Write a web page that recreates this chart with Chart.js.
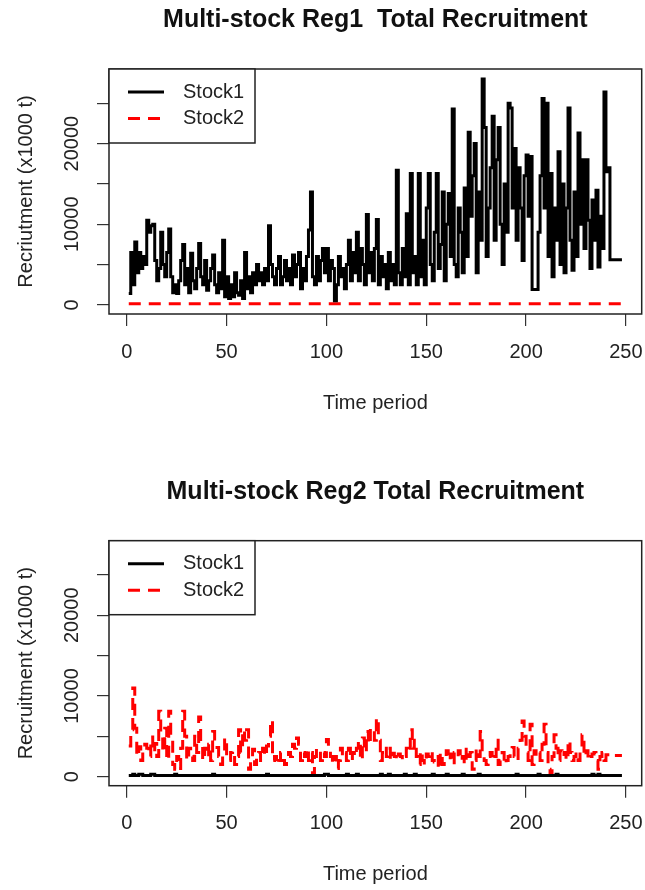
<!DOCTYPE html>
<html>
<head>
<meta charset="utf-8">
<title>Multi-stock Total Recruitment</title>
<script src="https://cdn.jsdelivr.net/npm/chart.js@4.4.1/dist/chart.umd.min.js"></script>
<style>
  body { margin: 0; background: #fff; }
  canvas { position: absolute; left: 0; }
</style>
</head>
<body>
<canvas id="reg1" width="645" height="445" style="top:0"></canvas>
<canvas id="reg2" width="645" height="445" style="top:445px"></canvas>
<script>
// recruitment by time period, x1000 t
const reg1Stock1 = [
  1400, 6500, 2500, 7800, 4000, 6500, 4500, 6000, 5000, 10500,
  9000, 9800, 10000, 5500, 3000, 4500, 9000, 5000, 3500, 6500,
  9400, 3500, 1500, 2500, 1400, 3000, 5500, 7500, 2500, 4500,
  1500, 6400, 3000, 2000, 4500, 7600, 3500, 2500, 5500, 1800,
  3000, 4500, 6200, 2500, 1500, 4000, 2000, 8000, 1000, 3500,
  800, 2500, 1000, 4000, 1500, 1200, 3000, 800, 6500, 2000,
  3500, 1500, 4000, 2500, 5000, 3000, 4000, 2500, 4500, 3000,
  9800, 5000, 3500, 2500, 4500, 6000, 2500, 3500, 5500, 3000,
  4500, 2500, 6200, 3500, 5000, 6500, 2000, 4500, 3000, 6000,
  9300, 14000, 3500, 2500, 6000, 3000, 5500, 7000, 4000, 7000,
  3000, 5500, 4500, 500, 2500, 6000, 3500, 4500, 2000, 5000,
  8000, 3000, 6500, 4000, 9000, 3000, 7000, 5000, 2500, 11200,
  4000, 6500, 3000, 7000, 10600, 2500, 6000, 3500, 5000, 2000,
  6500, 3000, 5000, 2500, 16700, 4000, 2500, 7000, 3500, 11300,
  2500, 16300, 4000, 6000, 2500, 16300, 3500, 8000, 2500, 12000,
  16300, 5000, 3000, 9000, 16300, 4500, 7500, 14000, 3000, 10000,
  13800, 6000, 24300, 5000, 3500, 12000, 9000, 4000, 14500, 6000,
  21400, 11000, 16000, 20000, 4000, 14000, 8000, 28000, 22000, 6000,
  12000, 17000, 23400, 8000, 18000, 22000, 10000, 5000, 15000, 9000,
  25000, 24400, 12000, 19400, 8000, 17000, 12000, 5500, 16000, 18600,
  11000, 18400, 1900, 1900, 1900, 9000, 16000, 25600, 12000, 25000,
  6000, 16300, 3500, 12000, 8000, 19000, 5000, 15000, 4000, 12000,
  24400, 8000, 4300, 14000, 6000, 21300, 10000, 18000, 7000, 18000,
  10500, 4500, 13000, 8000, 14200, 4700, 11000, 7000, 26400, 16500,
  17000, 5600, 5600, 5600, 5600, 5600, 5600, 5600
];
const reg1Stock2 = [
  150, 150, 150, 150, 150, 150, 150, 150, 150, 150,
  150, 150, 150, 150, 150, 150, 150, 150, 150, 150,
  150, 150, 150, 150, 150, 150, 150, 150, 150, 150,
  150, 150, 150, 150, 150, 150, 150, 150, 150, 150,
  150, 150, 150, 150, 150, 150, 150, 150, 150, 150,
  150, 150, 150, 150, 150, 150, 150, 150, 150, 150,
  150, 150, 150, 150, 150, 150, 150, 150, 150, 150,
  150, 150, 150, 150, 150, 150, 150, 150, 150, 150,
  150, 150, 150, 150, 150, 150, 150, 150, 150, 150,
  150, 150, 150, 150, 150, 150, 150, 150, 150, 150,
  150, 150, 150, 150, 150, 150, 150, 150, 150, 150,
  150, 150, 150, 150, 150, 150, 150, 150, 150, 150,
  150, 150, 150, 150, 150, 150, 150, 150, 150, 150,
  150, 150, 150, 150, 150, 150, 150, 150, 150, 150,
  150, 150, 150, 150, 150, 150, 150, 150, 150, 150,
  150, 150, 150, 150, 150, 150, 150, 150, 150, 150,
  150, 150, 150, 150, 150, 150, 150, 150, 150, 150,
  150, 150, 150, 150, 150, 150, 150, 150, 150, 150,
  150, 150, 150, 150, 150, 150, 150, 150, 150, 150,
  150, 150, 150, 150, 150, 150, 150, 150, 150, 150,
  150, 150, 150, 150, 150, 150, 150, 150, 150, 150,
  150, 150, 150, 150, 150, 150, 150, 150, 150, 150,
  150, 150, 150, 150, 150, 150, 150, 150, 150, 150,
  150, 150, 150, 150, 150, 150, 150, 150, 150, 150,
  150, 150, 150, 150, 150, 150, 150, 150
];
const reg2Stock1 = [
  120, 120, 300, 120, 120, 300, 300, 120, 120, 120,
  120, 300, 300, 120, 120, 120, 120, 120, 120, 120,
  120, 120, 120, 300, 120, 120, 120, 120, 120, 120,
  120, 120, 120, 120, 120, 120, 120, 120, 120, 120,
  120, 120, 300, 120, 120, 120, 120, 120, 120, 120,
  120, 120, 120, 120, 120, 120, 120, 120, 120, 120,
  120, 120, 120, 120, 120, 120, 120, 120, 120, 300,
  120, 120, 120, 120, 120, 120, 120, 120, 120, 120,
  120, 120, 120, 120, 120, 120, 120, 120, 120, 120,
  120, 120, 120, 120, 120, 120, 120, 120, 300, 300,
  120, 120, 120, 120, 120, 120, 120, 120, 120, 300,
  120, 120, 120, 120, 300, 120, 120, 120, 120, 120,
  120, 120, 120, 120, 120, 120, 300, 120, 120, 120,
  300, 120, 120, 120, 120, 120, 120, 120, 300, 120,
  120, 120, 120, 300, 120, 120, 120, 120, 120, 120,
  120, 120, 300, 120, 120, 120, 120, 120, 120, 300,
  120, 120, 120, 120, 120, 120, 120, 300, 120, 120,
  120, 120, 120, 120, 120, 300, 120, 120, 120, 120,
  120, 120, 120, 120, 120, 120, 120, 120, 120, 120,
  120, 120, 120, 120, 300, 120, 120, 120, 120, 120,
  120, 120, 120, 120, 120, 300, 120, 120, 120, 120,
  120, 120, 120, 120, 300, 120, 120, 120, 120, 120,
  120, 120, 120, 120, 120, 120, 120, 120, 120, 120,
  120, 120, 300, 120, 120, 300, 120, 120, 120, 120,
  120, 120, 120, 120, 120, 120, 120, 120
];
const reg2Stock2 = [
  3800, 5800, 11000, 6000, 2500, 3700, 2000, 3000, 4000, 3500,
  2500, 4900, 3000, 4100, 2500, 8100, 5000, 3000, 6000, 2000,
  8100, 4500, 1500, 900, 2500, 1000, 3500, 8100, 5000, 2000,
  3500, 2500, 2000, 5000, 3000, 7400, 4000, 2000, 3500, 2500,
  4000, 2000, 5600, 3600, 3600, 2500, 1500, 3000, 4800, 2000,
  2000, 3000, 3200, 1500, 2500, 5800, 3000, 5800, 4500, 5800,
  900, 2500, 3400, 1500, 2500, 3000, 2000, 3500, 2500, 3800,
  5000, 7000, 2000, 2500, 1500, 2000, 3000, 2000, 1500, 2000,
  3000, 2500, 4000, 3500, 4800, 4000, 2000, 3000, 2500, 3500,
  2000, 3000, 300, 2500, 3500, 3200, 2000, 3000, 2500, 4600,
  3500, 2500, 1500, 2500, 1000, 2000, 3500, 2500, 3000, 2000,
  3500, 2000, 3000, 2500, 3500, 4500, 2000, 4800, 3000, 5600,
  4000, 6000, 5800, 4500, 7300, 4500, 2000, 3000, 3700, 2500,
  3500, 2000, 2900, 2500, 2000, 2800, 2500, 2000, 2500, 3500,
  3000, 5800, 3500, 4500, 2500, 1500, 3200, 2000, 1500, 2800,
  2500, 3200, 2000, 1800, 2500, 900, 3000, 1500, 2500, 3200,
  2000, 2800, 1500, 3000, 2500, 3200, 2000, 2500, 1500, 3600,
  2500, 3000, 900, 2000, 3500, 2500, 5600, 3000, 2000, 1500,
  2500, 3000, 2000, 2500, 4500, 1500, 2000, 3000, 1500, 2000,
  2500, 3000, 3600, 2500, 2000, 3500, 4500, 6900, 5000, 3000,
  2000, 6500, 1500, 3200, 2500, 3000, 2000, 4000, 6500, 3000,
  900, 300, 2500, 5200, 3500, 2000, 3200, 2500, 3000, 2000,
  4500, 3000, 2000, 2500, 3000, 2000, 3500, 5200, 2500, 3200,
  2000, 2500, 2800, 3000, 2000, 900, 2500, 3000, 2000, 2700,
  2700, 2500, 2600, 2600, 2600, 2600, 2600, 2600
];

const periods = reg1Stock1.map((v, i) => i + 1);
const xTicks = [0, 50, 100, 150, 200, 250];
const yTicks = [0, 5000, 10000, 15000, 20000, 25000];
const yLabels = [0, 10000, 20000];
const seriesNames = ['Stock1', 'Stock2'];

const FONT = '"Liberation Sans", Arial, sans-serif';
Chart.defaults.font.family = FONT;

function toPoints(arr) {
  return arr.map((v, i) => ({ x: periods[i], y: v }));
}

// box, titles, tick labels and legend drawn on top like base R graphics
const rFrame = {
  id: 'rframe',
  afterDraw(chart, args, opts) {
    const ctx = chart.ctx;
    const a = chart.chartArea;
    const xs = chart.scales.x;
    const ys = chart.scales.y;
    const cx = (a.left + a.right) / 2;
    ctx.save();
    ctx.strokeStyle = '#222';
    ctx.lineWidth = 1.5;
    ctx.strokeRect(a.left, a.top, a.right - a.left, a.bottom - a.top);

    ctx.fillStyle = '#111';
    ctx.textAlign = 'center';
    ctx.textBaseline = 'middle';
    ctx.font = 'bold 25px ' + FONT;
    ctx.fillText(opts.title, cx, a.top - 49);

    ctx.fillStyle = '#222';
    ctx.font = '20px ' + FONT;
    ctx.fillText('Time period', cx, a.bottom + 89);

    xTicks.forEach(v => {
      ctx.fillText(String(v), xs.getPixelForValue(v), a.bottom + 38);
    });

    yLabels.forEach(v => {
      ctx.save();
      ctx.translate(a.left - 37, ys.getPixelForValue(v));
      ctx.rotate(-Math.PI / 2);
      ctx.fillText(String(v), 0, 0);
      ctx.restore();
    });
    ctx.save();
    ctx.translate(a.left - 83, (a.top + a.bottom) / 2);
    ctx.rotate(-Math.PI / 2);
    ctx.fillText(opts.yTitle, 0, 0);
    ctx.restore();

    // legend
    ctx.fillStyle = '#fff';
    ctx.fillRect(a.left, a.top, 146, 74);
    ctx.strokeStyle = '#222';
    ctx.lineWidth = 1.5;
    ctx.strokeRect(a.left, a.top, 146, 74);
    ctx.textAlign = 'left';
    chart.data.datasets.forEach((ds, i) => {
      const ly = a.top + 23 + i * 26.5;
      ctx.strokeStyle = ds.borderColor;
      ctx.lineWidth = ds.borderWidth;
      ctx.setLineDash(ds.borderDash || []);
      ctx.beginPath();
      ctx.moveTo(a.left + 19, ly);
      ctx.lineTo(a.left + 55, ly);
      ctx.stroke();
      ctx.setLineDash([]);
      ctx.fillStyle = '#222';
      ctx.fillText(ds.label, a.left + 74, ly);
    });
    ctx.restore();
  }
};

function makePanel(id, title, yTitle, s1, s2, pad) {
  return new Chart(document.getElementById(id), {
    type: 'line',
    data: {
      datasets: [
        { label: seriesNames[0], data: toPoints(s1), borderColor: '#000000', borderWidth: 3,
          stepped: true, pointRadius: 0 },
        { label: seriesNames[1], data: toPoints(s2), borderColor: '#ff0000', borderWidth: 3,
          borderDash: [12, 8], stepped: true, pointRadius: 0 }
      ]
    },
    options: {
      responsive: false,
      animation: false,
      events: [],
      layout: { padding: pad },
      plugins: {
        legend: { display: false },
        tooltip: { enabled: false },
        rframe: { title: title, yTitle: yTitle }
      },
      scales: {
        x: {
          type: 'linear',
          min: -8.9,
          max: 257.9,
          afterBuildTicks: s => { s.ticks = xTicks.map(v => ({ value: v })); },
          afterFit: s => { s.height = 0; s.paddingLeft = 0; s.paddingRight = 0; },
          grid: { drawOnChartArea: false, tickLength: 12, color: '#333', lineWidth: 1.2 },
          border: { display: false },
          ticks: { display: false }
        },
        y: {
          min: -1130,
          max: 29250,
          afterBuildTicks: s => { s.ticks = yTicks.map(v => ({ value: v })); },
          afterFit: s => { s.width = 0; s.paddingTop = 0; s.paddingBottom = 0; },
          grid: { drawOnChartArea: false, tickLength: 12, color: '#333', lineWidth: 1.2 },
          border: { display: false },
          ticks: { display: false }
        }
      }
    },
    plugins: [rFrame]
  });
}

makePanel('reg1', 'Multi-stock Reg1  Total Recruitment', 'Recriutment (x1000 t)',
  reg1Stock1, reg1Stock2, { top: 69, left: 109, right: 3.3, bottom: 131 });
makePanel('reg2', 'Multi-stock Reg2 Total Recruitment', 'Recruitment (x1000 t)',
  reg2Stock1, reg2Stock2, { top: 95.7, left: 109, right: 3.3, bottom: 104.3 });
</script>
</body>
</html>
